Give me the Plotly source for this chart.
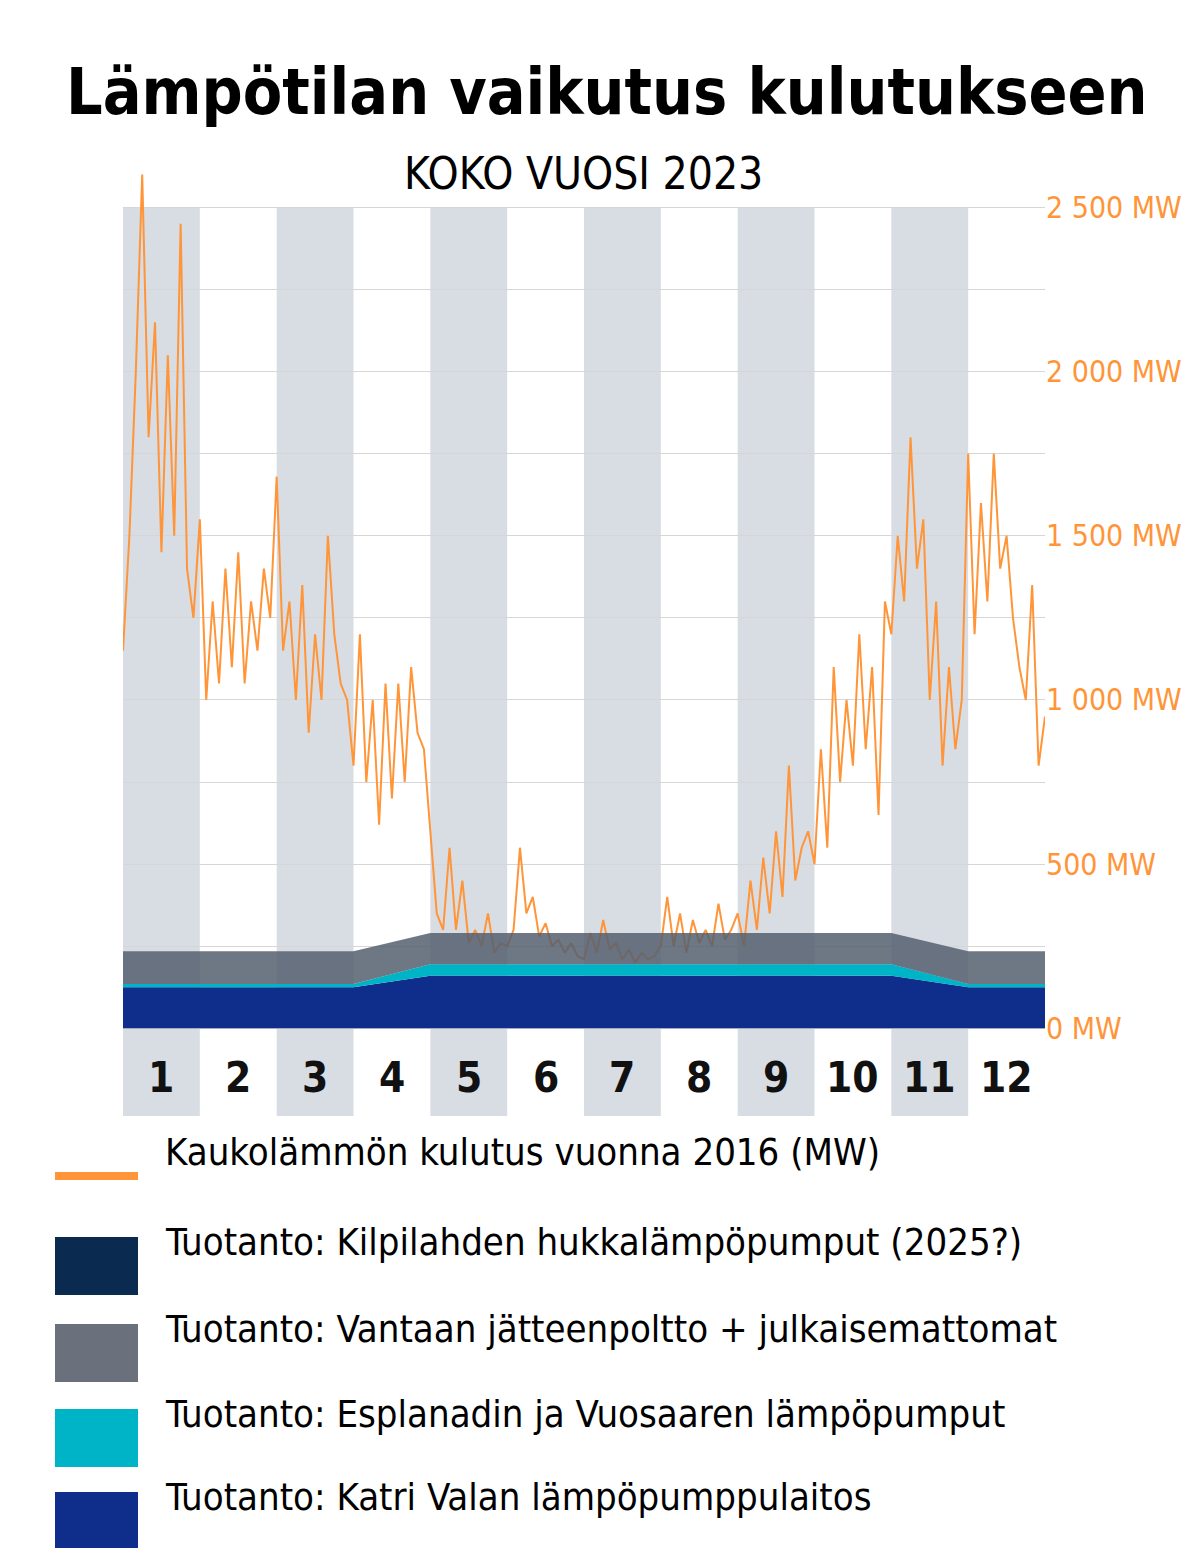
import plotly.graph_objects as go

# consumption samples, 12 per month (MW)
consumption = [
    1150, 1500, 2000, 2600, 1800, 2150, 1450, 2050, 1500, 2450, 1400, 1250,
    1550, 1000, 1300, 1050, 1400, 1100, 1450, 1050, 1300, 1150, 1400, 1250,
    1680, 1150, 1300, 1000, 1350, 900, 1200, 1000, 1500, 1200, 1050, 1000,
    800, 1200, 750, 1000, 620, 1050, 700, 1050, 750, 1100, 900, 850,
    600, 350, 300, 550, 300, 450, 260, 300, 250, 350, 230, 260,
    250, 300, 550, 350, 400, 280, 320, 250, 270, 230, 260, 220,
    210, 290, 230, 330, 240, 260, 210, 240, 200, 230, 210, 220,
    250, 400, 250, 350, 230, 330, 260, 300, 250, 380, 270, 300,
    350, 250, 450, 300, 520, 350, 600, 400, 800, 450, 550, 600,
    500, 850, 550, 1100, 750, 1000, 800, 1200, 850, 1100, 650, 1300,
    1200, 1500, 1300, 1800, 1400, 1550, 1000, 1300, 800, 1100, 850, 1000,
    1750, 1200, 1600, 1300, 1750, 1400, 1500, 1250, 1100, 1000, 1350, 800,
    950,
]
cons_x = [i / 12 for i in range(len(consumption))]

# production stack, values at month boundaries
prod_x = [0, 3, 4, 10, 11, 12]
katri_vala = [125, 125, 160, 160, 125, 125]
esplanadi = [10, 10, 35, 35, 10, 10]
vantaa = [100, 100, 95, 95, 100, 100]
kilpilahti = [0, 0, 0, 0, 0, 0]

months = [str(m) for m in range(1, 13)]
y_ticks = list(range(0, 2501, 250))
y_labels = ["0 MW", "", "500 MW", "", "1 000 MW", "", "1 500 MW", "", "2 000 MW", "", "2 500 MW"]

FONT = "DejaVu Sans Condensed, Roboto, sans-serif"
W, H = 1199, 1548
L, R, T, B = 115, 1037, 160, 1108   # plot area in pixels


def px_x(x):
    return (x - L) / (R - L)


def px_y(y):
    return (B - y) / (B - T)


fig = go.Figure()
fig.add_trace(go.Scatter(x=cons_x, y=consumption, mode="lines",
                         line=dict(color="#ff9538", width=2)))
fig.add_trace(go.Scatter(x=prod_x, y=katri_vala, stackgroup="p", mode="none",
                         fillcolor="#0f2d8a"))
fig.add_trace(go.Scatter(x=prod_x, y=esplanadi, stackgroup="p", mode="none",
                         fillcolor="#00b4c8"))
fig.add_trace(go.Scatter(x=prod_x, y=vantaa, stackgroup="p", mode="none",
                         fillcolor="rgba(85,95,110,0.85)"))
fig.add_trace(go.Scatter(x=prod_x, y=kilpilahti, stackgroup="p", mode="none",
                         fillcolor="#0a2a50"))

# month bands
for m in range(0, 12, 2):
    fig.add_shape(type="rect", x0=m, x1=m + 1, y0=-267, y1=2500, layer="below",
                  fillcolor="#d8dde4", line_width=0)
for i, lab in enumerate(months):
    fig.add_annotation(x=i + 0.5, y=-150, text="<b>" + lab + "</b>", showarrow=False,
                       font=dict(family=FONT, size=42, color="#111"))

fig.add_annotation(x=px_x(599), y=px_y(45), xref="paper", yref="paper", xanchor="center",
                   text="<b>Lämpötilan vaikutus kulutukseen</b>", showarrow=False,
                   font=dict(family=FONT, size=64, color="#000"))
fig.add_annotation(x=px_x(575), y=px_y(138), xref="paper", yref="paper", xanchor="center",
                   text="KOKO VUOSI 2023", showarrow=False,
                   font=dict(family=FONT, size=44, color="#000"))

# legend drawn by hand
legend = [
    ("line", "#ff9538", "Kaukolämmön kulutus vuonna 2016 (MW)", 1168),
    ("box", "#0a2a50", "Tuotanto: Kilpilahden hukkalämpöpumput (2025?)", 1258),
    ("box", "#6a717c", "Tuotanto: Vantaan jätteenpoltto + julkaisemattomat", 1345),
    ("box", "#00b4c8", "Tuotanto: Esplanadin ja Vuosaaren lämpöpumput", 1430),
    ("box", "#0f2d8a", "Tuotanto: Katri Valan lämpöpumppulaitos", 1513),
]
for kind, col, txt, yc in legend:
    half = 4 if kind == "line" else 29
    fig.add_shape(type="rect", xref="paper", yref="paper", x0=px_x(47), x1=px_x(130),
                  y0=px_y(yc + half), y1=px_y(yc - half), fillcolor=col, line_width=0)
    fig.add_annotation(x=px_x(155), y=px_y(yc), xref="paper", yref="paper", xanchor="left",
                       text=txt, showarrow=False,
                       font=dict(family=FONT, size=38, color="#000"))

fig.update_layout(
    width=W, height=H, showlegend=False, plot_bgcolor="white", paper_bgcolor="white",
    margin=dict(l=L, r=W - R, t=T, b=H - B, pad=0, autoexpand=False),
    xaxis=dict(range=[0, 12], showgrid=False, showticklabels=False, zeroline=False),
    yaxis=dict(range=[-267, 2620], side="right", tickvals=y_ticks, ticktext=y_labels,
               gridcolor="#d6d6d6", zeroline=False, ticks="",
               tickfont=dict(family=FONT, size=30, color="#ff9538")),
)
fig.write_html("out.html")
